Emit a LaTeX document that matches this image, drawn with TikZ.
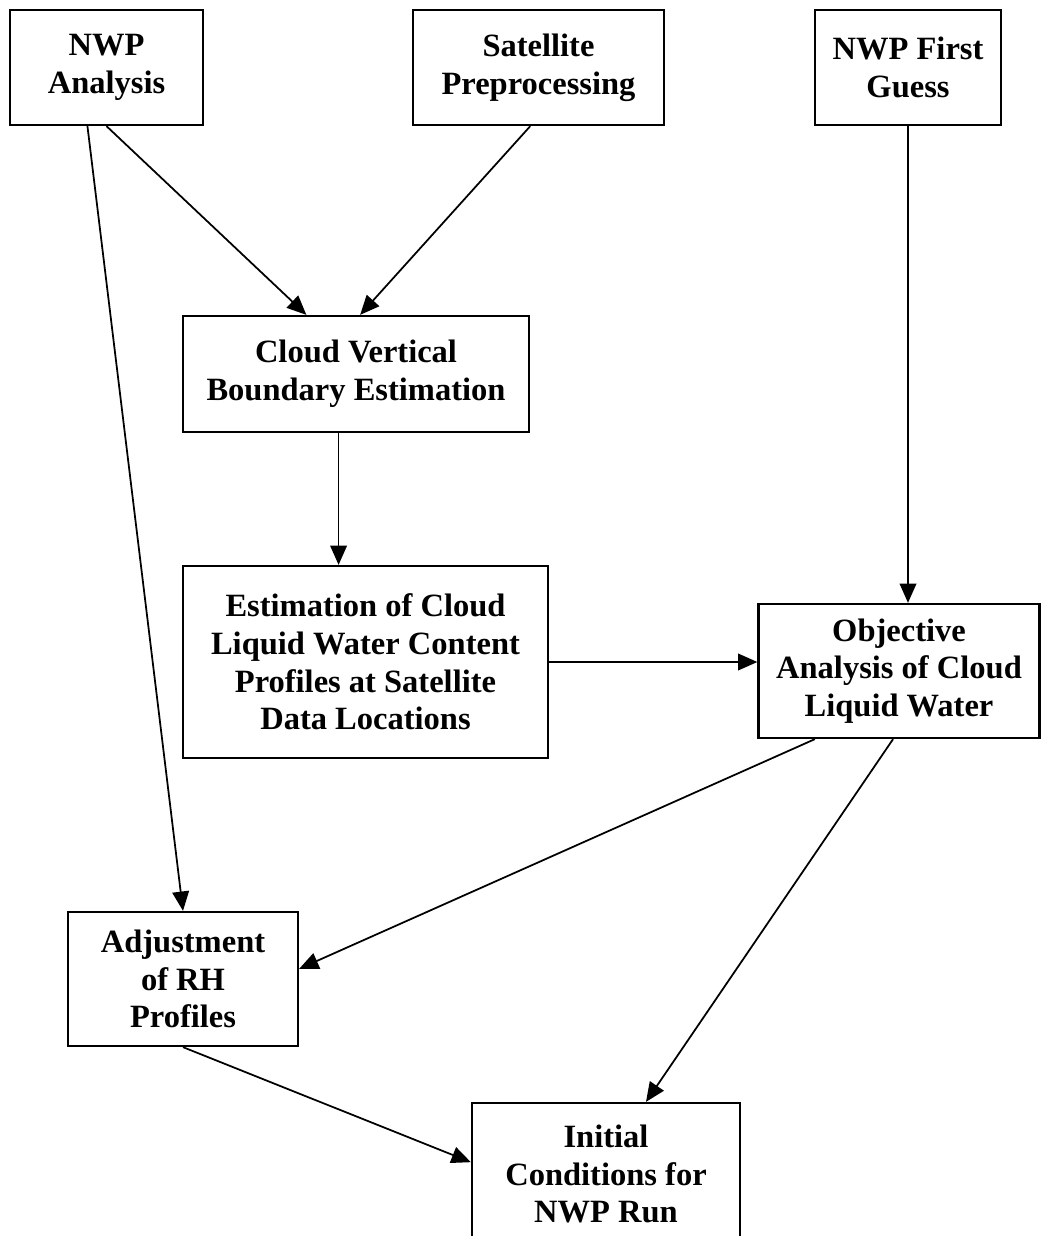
\documentclass[tikz,border=0pt]{standalone}
\usepackage{fontspec}
\setmainfont{Liberation Serif}
\usetikzlibrary{arrows.meta,calc}

\begin{document}
\begin{tikzpicture}[
    box/.style={draw,line width=1.3pt,rectangle,align=center,inner sep=0pt,
        font=\fontsize{18.5}{21.5}\selectfont\bfseries},
    flow/.style={line width=1pt,-{Triangle[length=11pt,width=9.5pt]}}]
    \useasboundingbox (0,0) rectangle (20.82,-24.72);

    \node[box,minimum width=3.86cm,minimum height=2.30cm] (nwpana) at (2.13,-1.35) {NWP\\Analysis};
    \node[box,minimum width=5.02cm,minimum height=2.30cm] (satpre) at (10.77,-1.35) {Satellite\\Preprocessing};
    \node[box,minimum width=3.72cm,minimum height=2.30cm] (nwpfg) at (18.16,-1.35) {NWP First\\Guess};
    \node[box,minimum width=6.92cm,minimum height=2.32cm] (cvbe) at (7.12,-7.48) {Cloud Vertical\\Boundary Estimation};
    \node[box,minimum width=7.30cm,minimum height=3.84cm] (eclw) at (7.31,-13.24) {Estimation of Cloud\\Liquid Water Content\\Profiles at Satellite\\Data Locations};
    \node[box,minimum width=5.62cm,minimum height=2.68cm] (oacl) at (17.98,-13.42) {Objective\\Analysis of Cloud\\Liquid Water};
    \node[box,minimum width=4.60cm,minimum height=2.68cm] (adjrh) at (3.66,-19.58) {Adjustment\\of RH\\Profiles};
    \node[box,minimum width=5.36cm,minimum height=2.84cm] (init) at (12.12,-23.48) {Initial\\Conditions for\\NWP Run};

    \draw[flow] (nwpana.south) -- (cvbe.130);
    \draw[flow] (satpre.262) -- (cvbe.86);
    \draw[flow] (nwpana.252) -- (adjrh.north);
    \draw[flow] (nwpfg.south) -- (nwpfg.south |- oacl.north);
    \draw[flow] ($(cvbe.south west)!0.45!(cvbe.south east)$) coordinate (cvbeout) -- (cvbeout |- eclw.north);
    \draw[flow] (eclw.east) -- (eclw.east -| oacl.west);
    \draw[flow] (oacl.219) -- (adjrh.5);
    \draw[flow] (oacl.265) -- (init.61);
    \draw[flow] (adjrh.south) -- (init.175);
\end{tikzpicture}
\end{document}
